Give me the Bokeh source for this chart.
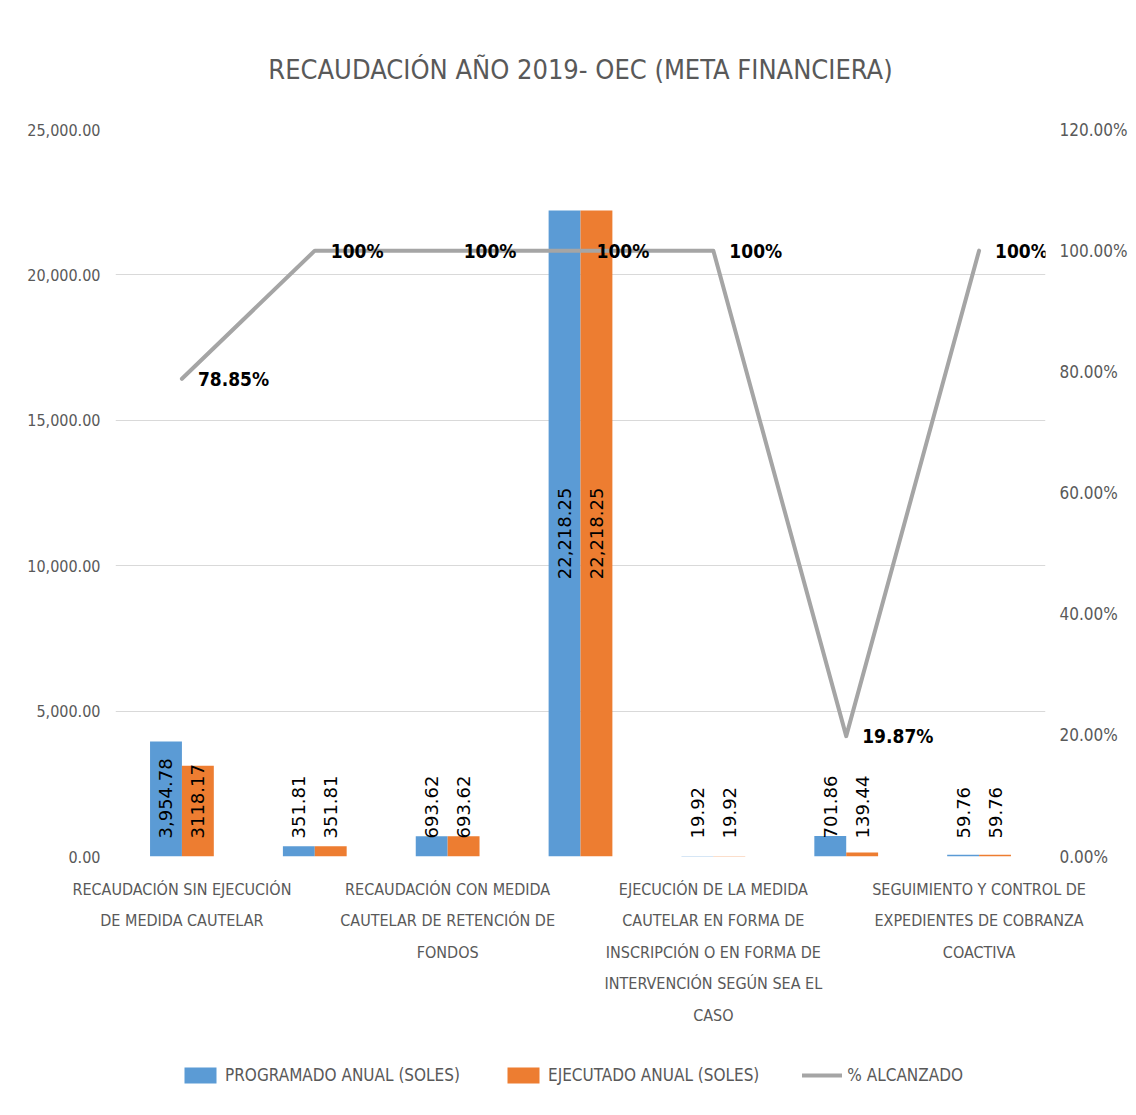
import math
from bokeh.plotting import figure
from bokeh.layouts import column
from bokeh.models import (ColumnDataSource, Range1d, LinearAxis, FixedTicker,
                          NumeralTickFormatter, Legend, LegendItem)
from bokeh.transform import dodge
from bokeh.core.properties import value
from bokeh.embed import file_html
from bokeh.resources import INLINE

# ---------------- data ----------------
chart_title = "RECAUDACIÓN AÑO 2019- OEC (META FINANCIERA)"
categories = [
    "RECAUDACIÓN SIN EJECUCIÓN\nDE MEDIDA CAUTELAR",
    "",
    "RECAUDACIÓN CON MEDIDA\nCAUTELAR DE RETENCIÓN DE\nFONDOS",
    "",
    "EJECUCIÓN DE LA MEDIDA\nCAUTELAR EN FORMA DE\nINSCRIPCIÓN O EN FORMA DE\nINTERVENCIÓN SEGÚN SEA EL\nCASO",
    "",
    "SEGUIMIENTO Y CONTROL DE\nEXPEDIENTES DE COBRANZA\nCOACTIVA",
]
programado = [3954.78, 351.81, 693.62, 22218.25, 19.92, 701.86, 59.76]
ejecutado = [3118.17, 351.81, 693.62, 22218.25, 19.92, 139.44, 59.76]
alcanzado = [0.7885, 1.0, 1.0, 1.0, 1.0, 0.1987, 1.0]
programado_labels = ["3,954.78", "351.81", "693.62", "22,218.25", "19.92", "701.86", "59.76"]
ejecutado_labels = ["3118.17", "351.81", "693.62", "22,218.25", "19.92", "139.44", "59.76"]
alcanzado_labels = ["78.85%", "100%", "100%", "100%", "100%", "19.87%", "100%"]
series_names = ["PROGRAMADO ANUAL (SOLES)", "EJECUTADO ANUAL (SOLES)", "% ALCANZADO"]
left_ticks = [0, 5000, 10000, 15000, 20000, 25000]
right_ticks = [0.0, 0.2, 0.4, 0.6, 0.8, 1.0, 1.2]

# ---------------- styles ----------------
BLUE = "#5B9BD5"
ORANGE = "#ED7D31"
GRAY_LINE = "#A5A5A5"
TEXT_GRAY = "#595959"
GRID = "#D9D9D9"
NARROW = "DejaVu Sans Condensed"
LABEL_FONT = "DejaVu Sans"
TOTAL_W = 1130
LEFT_B = 115

n = len(categories)
xs = list(range(n))
Y_MAX = 25000
FRAME_H = 727
FRAME_W = 930
px_to_data = Y_MAX / FRAME_H

p = figure(frame_width=FRAME_W, frame_height=FRAME_H, output_backend="svg",
           toolbar_location=None,
           x_range=Range1d(-0.5, n - 0.5), y_range=Range1d(0, Y_MAX),
           min_border_left=LEFT_B, min_border_right=TOTAL_W - LEFT_B - FRAME_W,
           min_border_top=129, min_border_bottom=199)
p.outline_line_color = None
p.background_fill_color = "white"
p.border_fill_color = "white"
p.xgrid.grid_line_color = None
p.ygrid.grid_line_color = GRID
p.ygrid.grid_line_width = 1
p.ygrid.ticker = FixedTicker(ticks=left_ticks)

# title
p.title.text = chart_title
p.title.align = "center"
p.title.standoff = 90
p.title.text_font = NARROW
p.title.text_font_size = "27px"
p.title.text_font_style = "normal"
p.title.text_color = TEXT_GRAY

# left axis
yax = p.yaxis[0]
yax.ticker = FixedTicker(ticks=left_ticks)
yax.formatter = NumeralTickFormatter(format="0,0.00")
# right axis
p.extra_y_ranges = {"pct": Range1d(0, 1.2)}
rax = LinearAxis(y_range_name="pct", ticker=FixedTicker(ticks=right_ticks),
                 formatter=NumeralTickFormatter(format="0.00%"))
p.add_layout(rax, "right")
# x axis
xax = p.xaxis[0]
xax.ticker = FixedTicker(ticks=[i for i in xs if categories[i]])
xax.major_label_overrides = {i: categories[i] for i in xs if categories[i]}
xax.major_label_text_line_height = 1.66
xax.major_label_standoff = 17

for ax in [yax, rax, xax]:
    ax.axis_line_color = None
    ax.major_tick_line_color = None
    ax.minor_tick_line_color = None
    ax.major_label_text_font = NARROW
    ax.major_label_text_color = TEXT_GRAY
yax.major_label_text_font_size = "16px"
rax.major_label_text_font_size = "17px"
xax.major_label_text_font_size = "16px"
yax.major_label_standoff = 9
rax.major_label_standoff = 8

src = ColumnDataSource(dict(x=xs, programado=programado, ejecutado=ejecutado,
                            alcanzado=alcanzado, alcanzado_labels=alcanzado_labels))

BW = 0.24
bar_styles = [dict(fill_color=BLUE, line_color=None), dict(fill_color=ORANGE, line_color=None)]
line_style = dict(line_color=GRAY_LINE, line_width=4, line_join="round", line_cap="round")

p.vbar(x=dodge("x", -BW / 2, range=p.x_range), top="programado", width=BW,
       source=src, **bar_styles[0])
p.vbar(x=dodge("x", BW / 2, range=p.x_range), top="ejecutado", width=BW,
       source=src, **bar_styles[1])
p.line(x="x", y="alcanzado", source=src, y_range_name="pct", **line_style)

# bar value labels (vertical)
base_offset = 18 * px_to_data
for vals, labels, shift in [(programado, programado_labels, -BW / 2),
                            (ejecutado, ejecutado_labels, BW / 2)]:
    cx, cy, ct, bx, by, bt = [], [], [], [], [], []
    for i, (v, t) in enumerate(zip(vals, labels)):
        if v > 10000:
            cx.append(i + shift); cy.append(v / 2); ct.append(t)
        else:
            bx.append(i + shift); by.append(base_offset); bt.append(t)
    p.text(x=cx, y=cy, text=ct, angle=math.pi / 2, text_align="center",
           text_baseline="middle", text_font=value(LABEL_FONT),
           text_font_size="18px", text_color="black")
    p.text(x=bx, y=by, text=bt, angle=math.pi / 2, text_align="left",
           text_baseline="middle", text_font=value(LABEL_FONT),
           text_font_size="18px", text_color="black")

# line labels
p.text(x="x", y="alcanzado", text="alcanzado_labels", source=src, y_range_name="pct",
       x_offset=16, text_align="left", text_baseline="middle",
       text_font=value(NARROW), text_font_style="bold", text_font_size="19px",
       text_color="black")

# ---------------- legend strip (own small figure, same series/styles) ----------------
leg = figure(width=TOTAL_W, height=40, output_backend="svg", toolbar_location=None,
             x_range=Range1d(0, 1), y_range=Range1d(0, 1), min_border=0)
leg.axis.visible = False
leg.grid.visible = False
leg.outline_line_color = None
leg.border_fill_color = "white"
lr_prog = leg.vbar(x="x", top="programado", width=BW, source=src, visible=False,
                   **bar_styles[0])
lr_ejec = leg.vbar(x="x", top="ejecutado", width=BW, source=src, visible=False,
                   **bar_styles[1])
lr_line = leg.line(x="x", y="alcanzado", source=src, visible=False, **line_style)
legend = Legend(items=[LegendItem(label=series_names[0], renderers=[lr_prog]),
                       LegendItem(label=series_names[1], renderers=[lr_ejec]),
                       LegendItem(label=series_names[2], renderers=[lr_line])],
                orientation="horizontal", location=(65, 10),
                glyph_width=40, glyph_height=20, label_standoff=5, spacing=43,
                padding=0, margin=0, border_line_color=None,
                background_fill_alpha=0, inactive_fill_alpha=0,
                label_text_font=NARROW,
                label_text_font_size="17px", label_text_color=TEXT_GRAY)
leg.add_layout(legend, "center")

layout = column(p, leg, spacing=0)
open("out.html", "w").write(file_html(layout, INLINE))
